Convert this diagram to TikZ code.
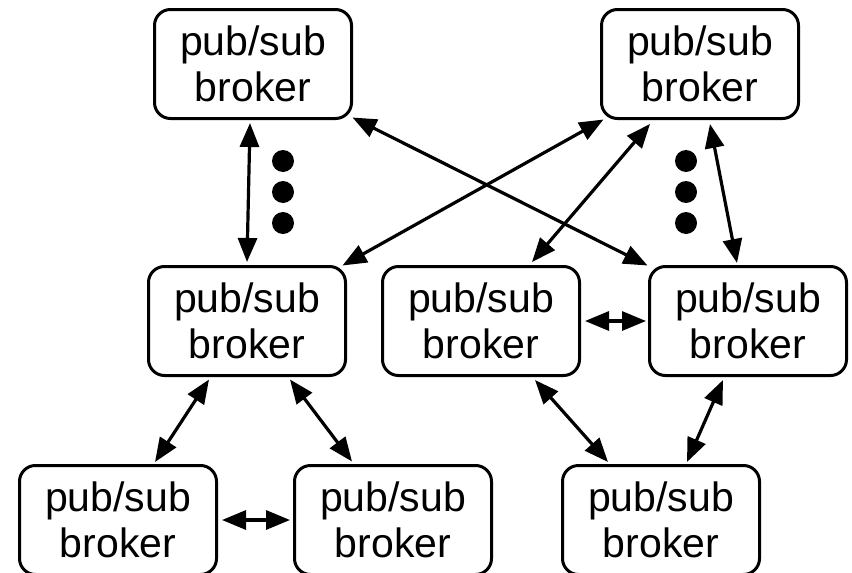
\documentclass[tikz,border=0pt]{standalone}
\usepackage{fontspec}
\setmainfont{Liberation Sans}
\usetikzlibrary{arrows.meta,calc}
\begin{document}
\begin{tikzpicture}[x=1pt,y=-1pt,
  broker/.style={draw,line width=3pt,rounded corners=16pt,minimum width=197pt,minimum height=109pt,
    inner sep=0pt,outer sep=0pt,align=center,font=\fontsize{41}{46}\selectfont},
  link/.style={line width=3.2pt,{Triangle[length=24pt,width=19pt]}-{Triangle[length=24pt,width=19pt]}},
  dotmark/.style={circle,fill=black,minimum size=22pt,inner sep=0pt}]
\useasboundingbox (0,0) rectangle (852,573);
\node[broker] (TL) at (253,64) {pub/sub\\broker};
\node[broker] (TR) at (700,64) {pub/sub\\broker};
\node[broker] (ML) at (247,321) {pub/sub\\broker};
\node[broker] (MC) at (481,321) {pub/sub\\broker};
\node[broker] (MR) at (748,321) {pub/sub\\broker};
\node[broker] (BL) at (118,520) {pub/sub\\broker};
\node[broker] (BM) at (393,520) {pub/sub\\broker};
\node[broker] (BR) at (661,520) {pub/sub\\broker};
\node[dotmark] (d1) at (283,161) {};
\node[dotmark] (d2) at (283,192) {};
\node[dotmark] (d3) at (283,223) {};
\node[dotmark] (d4) at (686,161) {};
\node[dotmark] (d5) at (686,192) {};
\node[dotmark] (d6) at (686,223) {};
\draw[link] ($(TL.south)+(-3,4.5)$) -- ($(ML.north)+(0,-4.5)$);
\draw[link] ($(TL.south east)+(1,-1)$) -- ($(MR.north west)+(-2,-1)$);
\draw[link] ($(ML.north east)+(-3,-1)$) -- ($(TR.south west)+(2,1)$);
\draw[link] ($(MC.north)+(51,-4.5)$) -- ($(TR.south)+(-50,5.5)$);
\draw[link] ($(TR.south)+(10,5.5)$) -- ($(MR.north)+(-11,-3.5)$);
\draw[link] ($(MC.east)+(5.5,0)$) -- ($(MR.west)+(-3.5,0)$);
\draw[link] ($(ML.south)+(-38,4)$) -- ($(BL.north)+(37,-3.5)$);
\draw[link] ($(ML.south)+(43,4)$) -- ($(BM.north)+(-41,-4)$);
\draw[link] ($(BL.east)+(5.5,0)$) -- ($(BM.west)+(-4.5,0)$);
\draw[link] ($(MC.south)+(54,4.5)$) -- ($(BR.north)+(-53,-3.5)$);
\draw[link] ($(MR.south)+(-25,4.5)$) -- ($(BR.north)+(26,-3.5)$);
\end{tikzpicture}
\end{document}
